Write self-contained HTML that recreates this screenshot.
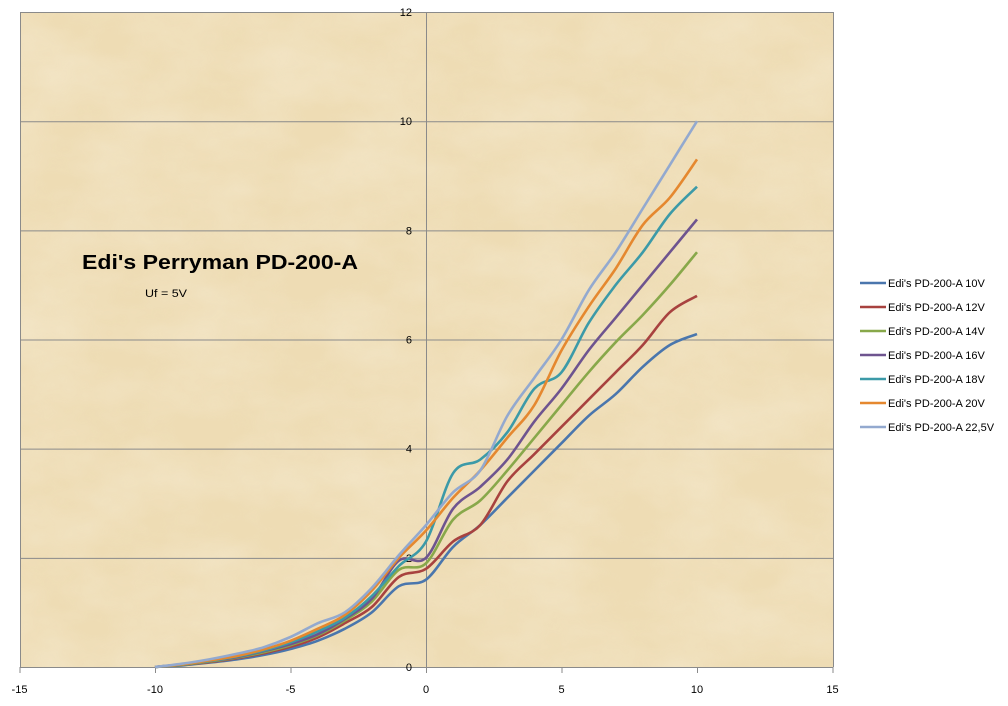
<!DOCTYPE html>
<html><head><meta charset="utf-8"><style>
html,body{margin:0;padding:0;background:#fff;}
svg{display:block;font-family:"Liberation Sans",sans-serif;}
</style></head><body>
<svg id="s" width="1008" height="706" viewBox="0 0 1008 706">
<defs>
<filter id="tex" x="0" y="0" width="100%" height="100%">
<feTurbulence type="fractalNoise" baseFrequency="0.012 0.02" numOctaves="4" seed="3"/>
<feColorMatrix type="matrix" values="0 0 0 0 0.93  0 0 0 0 0.85  0 0 0 0 0.68  0.9 0 0 0 -0.25"/>
</filter>
</defs>
<rect x="20" y="12" width="813" height="655" fill="#eedcb4"/>
<rect x="20" y="12" width="813" height="655" fill="#e2c893" filter="url(#tex)" opacity="0.8"/>
<g id="grid" stroke="#8a8a8a" stroke-width="1"></g>
<g id="lbl" font-size="11" fill="#000"></g>
<g id="series" fill="none" stroke-width="2.6" stroke-linejoin="round"></g>
<text x="82" y="269" font-size="20" font-weight="bold" fill="#000" textLength="276" lengthAdjust="spacingAndGlyphs">Edi's Perryman PD-200-A</text>
<text x="145" y="297" font-size="11" fill="#000" textLength="42" lengthAdjust="spacingAndGlyphs">Uf = 5V</text>
<g id="leg" font-size="11" fill="#000"></g>
</svg>
<script>
var NS="http://www.w3.org/2000/svg";
function px(x){return 426+x*27.1;} function py(y){return 667-y*54.58;}
function el(p,t,a,txt){var e=document.createElementNS(NS,t);for(var k in a)e.setAttribute(k,a[k]);if(txt!=null)e.textContent=txt;document.getElementById(p).appendChild(e);return e;}
for(var v=0;v<=12;v+=2){el('grid','line',{x1:20,x2:833,y1:py(v)+.5,y2:py(v)+.5});el('lbl','text',{x:412,y:py(v)+4,'text-anchor':'end'},v);}
[20,426,833].forEach(function(x){el('grid','line',{x1:x+.5,x2:x+.5,y1:12,y2:667});});
for(var x=-15;x<=15;x+=5){el('grid','line',{x1:px(x)+.5,x2:px(x)+.5,y1:667,y2:673});el('lbl','text',{x:px(x),y:693,'text-anchor':'middle'},x);}
var xs=[-10,-9,-8,-7,-6,-5,-4,-3,-2,-1,0,1,2,3,4,5,6,7,8,9,10];
var S=[
["#4a76ad","Edi's PD-200-A 10V",[0,0.03,0.08,0.14,0.22,0.33,0.48,0.7,1.0,1.48,1.6,2.2,2.6,3.1,3.6,4.1,4.6,5.0,5.5,5.9,6.1]],
["#a8423f","Edi's PD-200-A 12V",[0,0.04,0.09,0.16,0.25,0.37,0.54,0.8,1.1,1.65,1.8,2.3,2.6,3.4,3.9,4.4,4.9,5.4,5.9,6.5,6.8]],
["#88a84a","Edi's PD-200-A 14V",[0,0.04,0.1,0.17,0.27,0.4,0.58,0.85,1.2,1.78,1.9,2.7,3.05,3.6,4.2,4.8,5.4,5.95,6.45,7.0,7.6]],
["#6e548f","Edi's PD-200-A 16V",[0,0.05,0.11,0.18,0.29,0.42,0.6,0.88,1.25,1.95,2.0,2.9,3.3,3.8,4.5,5.1,5.8,6.4,7.0,7.6,8.2]],
["#3c9aa8","Edi's PD-200-A 18V",[0,0.05,0.11,0.19,0.3,0.45,0.65,0.9,1.3,1.85,2.3,3.55,3.8,4.3,5.1,5.4,6.3,7.0,7.6,8.3,8.8]],
["#e5882f","Edi's PD-200-A 20V",[0,0.05,0.12,0.2,0.32,0.48,0.7,0.95,1.4,2.0,2.5,3.1,3.6,4.2,4.8,5.8,6.6,7.3,8.1,8.6,9.3]],
["#93a9cf","Edi's PD-200-A 22,5V",[0,0.06,0.14,0.24,0.36,0.55,0.8,1.0,1.45,2.05,2.6,3.2,3.6,4.6,5.3,6.0,6.9,7.6,8.4,9.2,10.0]]
];
S.forEach(function(s,i){
 var P=xs.map(function(x,j){return [px(x),py(s[2][j])];});
 var d="M"+P[0][0]+","+P[0][1];
 for(var j=0;j<P.length-1;j++){
  var p0=P[Math.max(0,j-1)],p1=P[j],p2=P[j+1],p3=P[Math.min(P.length-1,j+2)];
  var c1=[p1[0]+(p2[0]-p0[0])/6,p1[1]+(p2[1]-p0[1])/6],c2=[p2[0]-(p3[0]-p1[0])/6,p2[1]-(p3[1]-p1[1])/6];
  d+=" C"+c1[0].toFixed(1)+","+c1[1].toFixed(1)+" "+c2[0].toFixed(1)+","+c2[1].toFixed(1)+" "+p2[0].toFixed(1)+","+p2[1].toFixed(1);
 }
 el('series','path',{d:d,stroke:s[0]});
 var y=283+i*24;
 el('leg','line',{x1:860,x2:886,y1:y,y2:y,stroke:s[0],'stroke-width':2.6});
 el('leg','text',{x:888,y:y+4},s[1]);
});
</script>
</body></html>
